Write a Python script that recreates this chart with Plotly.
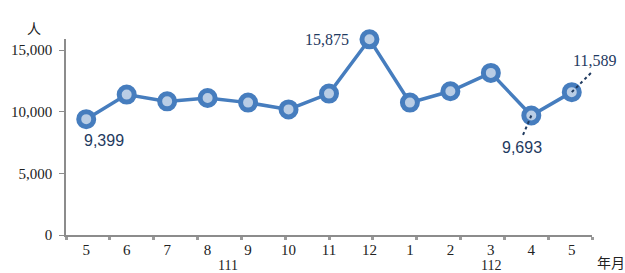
import plotly.graph_objects as go

months = ["5", "6", "7", "8", "9", "10", "11", "12", "1", "2", "3", "4", "5"]
values = [9399, 11390, 10840, 11110, 10740, 10190, 11470, 15875, 10740, 11660, 13150, 9693, 11589]
years = ["111", "112"]
year_spans = [(0, 7), (8, 12)]
y_ticks = [0, 5000, 10000, 15000]

LINE = "#467DBE"
FILL = "#B9CDE5"
LBL = "#1F3A5F"
SERIF = "Liberation Serif"
SANS = "Liberation Sans"

xs = list(range(len(months)))

fig = go.Figure()
fig.add_trace(go.Scatter(
    x=xs, y=values, mode="lines+markers",
    line=dict(color=LINE, width=3.5),
    marker=dict(size=15, color=FILL, line=dict(color=LINE, width=5)),
    cliponaxis=False, hoverinfo="skip", showlegend=False,
))

ann = []
def lab(i, text, dx, dy, font):
    ann.append(dict(x=i, y=values[i], xref="x", yref="y", text=text, showarrow=False,
                    xanchor="center", yanchor="middle",
                    xshift=dx, yshift=dy, font=dict(family=font, size=16, color=LBL)))

lab(0, f"{values[0]:,}", 18, -21, SANS)
lab(7, f"{values[7]:,}", -42, 0, SERIF)
lab(11, f"{values[11]:,}", -9, -32, SANS)
lab(12, f"{values[12]:,}", 23, 32, SERIF)

shapes = [
    dict(type="line", xref="x", yref="y", xsizemode="pixel", ysizemode="pixel",
         xanchor=11, yanchor=values[11], x0=0, y0=0, x1=-9, y1=-21,
         line=dict(color=LBL, width=2, dash="dot")),
    dict(type="line", xref="x", yref="y", xsizemode="pixel", ysizemode="pixel",
         xanchor=12, yanchor=values[12], x0=0, y0=0, x1=23, y1=23,
         line=dict(color=LBL, width=2, dash="dot")),
]

for yr, (a, b) in zip(years, year_spans):
    ann.append(dict(x=(a + b) / 2, y=-0.158, xref="x", yref="paper", text=yr,
                    xanchor="center", yanchor="middle",
                    showarrow=False, font=dict(family=SERIF, size=14, color="#222")))

ann.append(dict(x=-0.061, y=1.058, xref="paper", yref="paper", text="人", showarrow=False,
                xanchor="center", yanchor="middle",
                font=dict(family="Noto Sans CJK TC", size=14, color="#222")))
ann.append(dict(x=1.036, y=-0.14, xref="paper", yref="paper", text="年月", showarrow=False,
                xanchor="center", yanchor="middle",
                font=dict(family="Noto Sans CJK TC", size=14, color="#222")))

n = len(months)
fig.update_layout(
    width=625, height=273,
    margin=dict(l=66, r=33, t=39, b=38),
    paper_bgcolor="white", plot_bgcolor="white",
    annotations=ann, shapes=shapes,
    xaxis=dict(
        range=[-0.5, n - 0.5], tickvals=xs, ticktext=months,
        showline=True, linecolor="#8C8C8C", linewidth=1.5,
        showgrid=False, zeroline=False, ticks="", ticklen=0,
        tickfont=dict(family=SERIF, size=15, color="#222"),
        minor=dict(tick0=-0.5, dtick=n / 12, ticks="outside", ticklen=3, tickwidth=3,
                   tickcolor="#9A9A9A", showgrid=False),
    ),
    yaxis=dict(
        range=[0, 15900], tickvals=y_ticks, tickformat=",",
        showline=True, linecolor="#8C8C8C", linewidth=1.5,
        showgrid=False, zeroline=False, ticks="outside", ticklen=5, tickcolor="#8C8C8C",
        tickfont=dict(family=SERIF, size=15, color="#222"),
        ticklabelstandoff=4,
    ),
)

fig.write_html("out.html", config={"displayModeBar": False},
               post_script="document.body.style.margin='0';")
